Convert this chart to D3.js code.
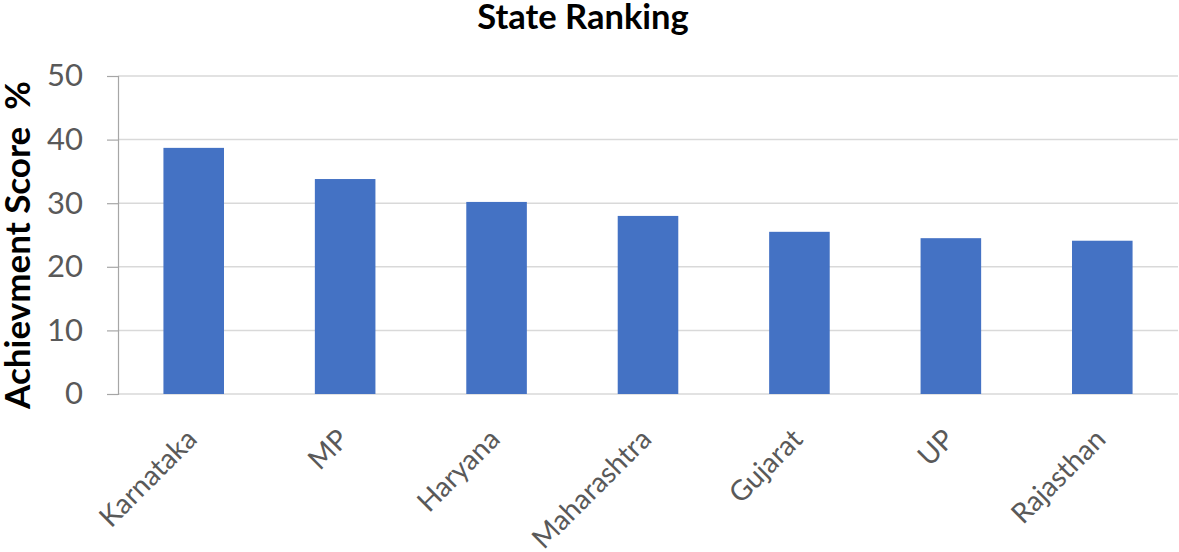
<!DOCTYPE html>
<html>
<head>
<meta charset="utf-8">
<script src="https://cdn.jsdelivr.net/npm/d3@7"></script>
<style>
  body { margin: 0; background: #fff; }
  svg { display: block; font-family: Lato, "Open Sans", sans-serif; }
</style>
</head>
<body>
<svg id="chart" width="1179" height="552"></svg>
<script>
// Chart data
const states = ["Karnataka", "MP", "Haryana", "Maharashtra", "Gujarat", "UP", "Rajasthan"];
const scores = [38.7, 33.8, 30.2, 28.0, 25.5, 24.5, 24.1];
const yTicks = [0, 10, 20, 30, 40, 50];

const svg = d3.select("#chart");

// Plot area
const plotLeft = 118, plotRight = 1178, plotTop = 76, plotBottom = 394;

const x = d3.scaleBand()
    .domain(states)
    .range([plotLeft, plotRight])
    .paddingInner(0.6)
    .paddingOuter(0.3);

const y = d3.scaleLinear()
    .domain([0, 50])
    .range([plotBottom, plotTop]);

// Gridlines
svg.append("g")
    .selectAll("line")
    .data(yTicks)
    .enter()
    .append("line")
    .attr("x1", plotLeft)
    .attr("x2", plotRight)
    .attr("y1", d => y(d))
    .attr("y2", d => y(d))
    .style("stroke", "#d9d9d9")
    .style("stroke-width", 1.5);

// Y axis with outward ticks
const yAxis = svg.append("g")
    .attr("transform", `translate(${plotLeft},0)`)
    .call(d3.axisLeft(y).tickValues(yTicks).tickSize(11).tickPadding(24));
yAxis.select(".domain").style("stroke", "#a6a6a6").style("stroke-width", 1.2);
yAxis.selectAll(".tick line").style("stroke", "#a6a6a6").style("stroke-width", 1.2);
yAxis.selectAll(".tick text")
    .style("font-family", "Lato, sans-serif")
    .style("font-size", "31px")
    .style("fill", "#595959");

// Bars
svg.append("g")
    .selectAll("rect")
    .data(states)
    .enter()
    .append("rect")
    .attr("x", d => x(d))
    .attr("width", x.bandwidth())
    .attr("y", (d, i) => y(scores[i]))
    .attr("height", (d, i) => y(0) - y(scores[i]))
    .style("fill", "#4472c4");

// Category labels, rotated
svg.append("g")
    .selectAll("text")
    .data(states)
    .enter()
    .append("text")
    .attr("transform", d => `translate(${x(d) + x.bandwidth() / 2 + 5},${plotBottom + 47}) rotate(-45)`)
    .attr("text-anchor", "end")
    .style("font-size", "28px")
    .style("fill", "#595959")
    .text(d => d);

// Title
svg.append("text")
    .attr("x", 583)
    .attr("y", 29)
    .attr("text-anchor", "middle")
    .style("font-size", "34.5px")
    .style("font-weight", "bold")
    .style("fill", "#000")
    .text("State Ranking");

// Y axis title
svg.append("text")
    .attr("transform", "translate(30,245) rotate(-90)")
    .attr("text-anchor", "middle")
    .style("font-size", "35px")
    .style("font-weight", "bold")
    .style("fill", "#000")
    .style("white-space", "pre")
    .text("Achievment Score  %");
</script>
</body>
</html>
